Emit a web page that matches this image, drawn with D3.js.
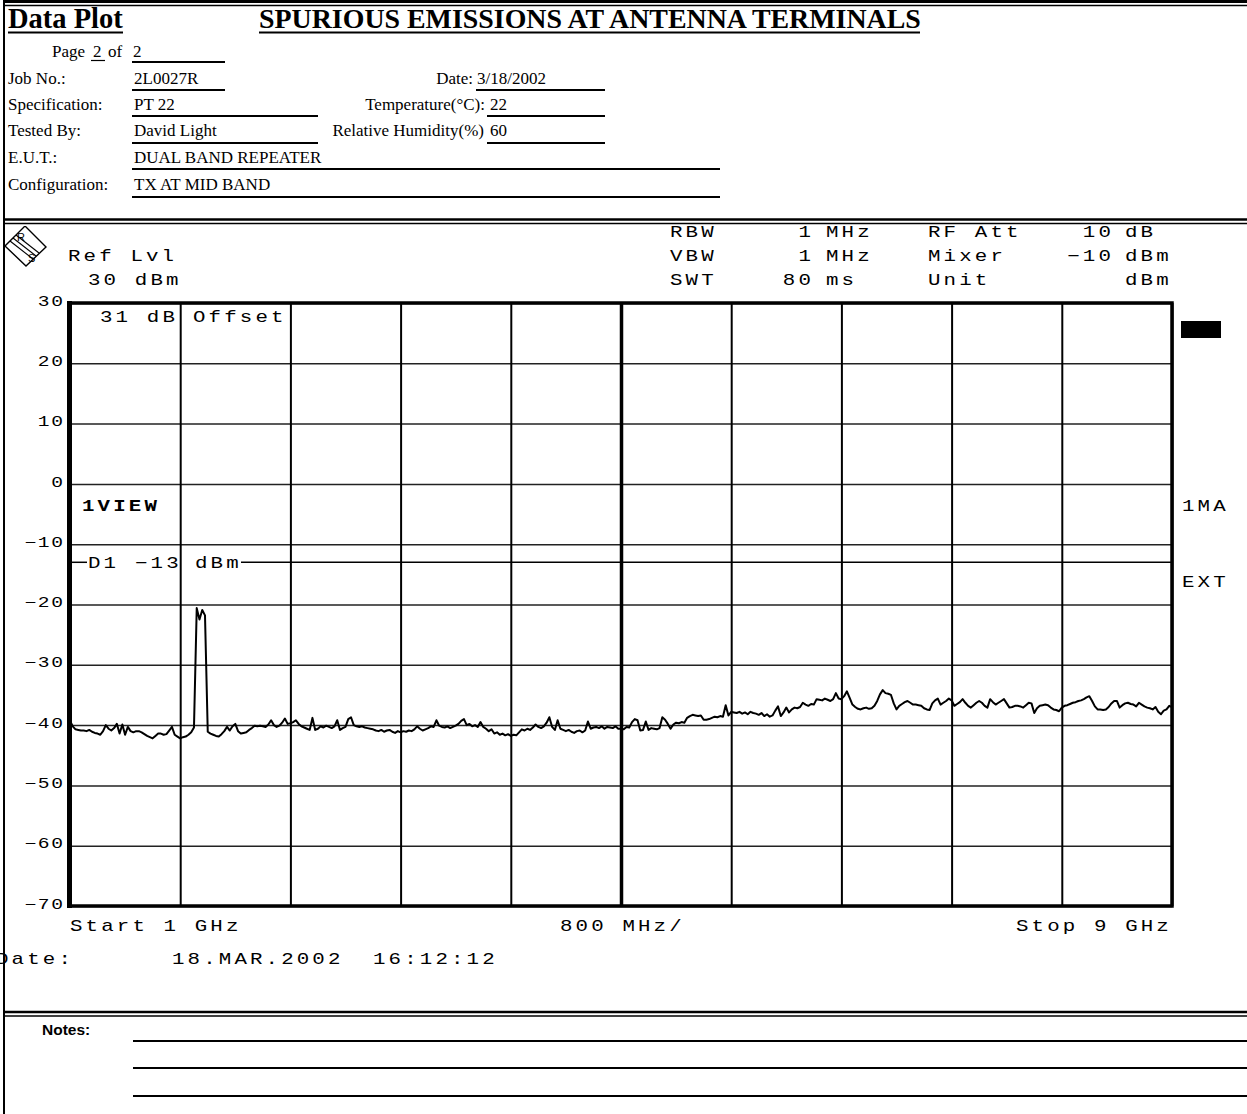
<!DOCTYPE html>
<html>
<head>
<meta charset="utf-8">
<script src="https://cdn.jsdelivr.net/npm/d3@7"></script>
<style>
  html, body { margin: 0; padding: 0; background: #fff; }
  svg { display: block; }
  .scr { font-family: "Liberation Mono", "DejaVu Sans Mono", monospace; fill: #000; }
  .frm { font-family: "Liberation Serif", "Times New Roman", serif; fill: #000; }
  .arial { font-family: "Liberation Sans", Arial, sans-serif; fill: #000; }
</style>
</head>
<body>
<svg id="page" width="1247" height="1114"></svg>
<script>
// ---------- report header ----------
const reportTitle = "SPURIOUS EMISSIONS AT ANTENNA TERMINALS";
const pageNo = "2", pageCount = "2";
const formLabels = ["Job No.:", "Specification:", "Tested By:", "E.U.T.:", "Configuration:"];
const formValues = ["2L0027R", "PT 22", "David Light", "DUAL BAND REPEATER", "TX AT MID BAND"];
const envLabels = ["Date:", "Temperature(°C):", "Relative Humidity(%)"];
const envValues = ["3/18/2002", "22", "60"];

// ---------- analyzer settings ----------
const refLevelDbm = 30;
const offsetDb = 31;
const settingNames = ["RBW", "VBW", "SWT"];
const settingNums = ["1", "1", "80"];
const settingUnits = ["MHz", "MHz", "ms"];
const settingNames2 = ["RF Att", "Mixer", "Unit"];
const settingNums2 = ["10", "−10", ""];
const settingUnits2 = ["dB", "dBm", "dBm"];
const displayLineDbm = -13;
const startGHz = 1, stopGHz = 9, spanPerDivMHz = 800;
const sweepDate = "18.MAR.2002", sweepTime = "16:12:12";

// ---------- axes ----------
const levelTicks = [30, 20, 10, 0, -10, -20, -30, -40, -50, -60, -70];
const freqGridGHz = [1, 1.8, 2.6, 3.4, 4.2, 5.0, 5.8, 6.6, 7.4, 8.2, 9];

// ---------- trace (dBm), sweep points every 20 MHz from 1 GHz to 9 GHz ----------
const traceDbm = [
  // 1.00 – 1.38 GHz
  -39.3,-40.2,-40.7,-40.8,-40.9,-40.9,-41.0,-40.8,-41.1,-41.3,-41.4,-41.6,-41.0,-40.0,-40.6,-40.9,-40.5,-39.8,-41.4,-39.9,
  // 1.40 – 1.78
  -41.6,-40.3,-41.0,-41.2,-41.0,-41.0,-41.2,-41.5,-41.8,-42.0,-42.2,-41.8,-41.4,-41.4,-41.6,-41.5,-40.9,-40.3,-41.6,-41.9,
  // 1.80 – 2.18 (carrier near 1.96 GHz)
  -42.2,-42.0,-41.9,-41.6,-41.2,-40.4,-20.6,-22.5,-20.9,-21.8,-41.1,-41.4,-41.6,-41.8,-41.9,-41.5,-41.0,-40.3,-40.9,-40.2,
  // 2.20 – 2.58
  -39.8,-41.0,-41.4,-41.3,-41.2,-40.8,-40.5,-40.1,-40.2,-40.1,-40.2,-40.3,-39.9,-39.2,-40.0,-40.3,-40.1,-39.6,-38.9,-39.8,
  // 2.60 – 2.98
  -39.7,-39.5,-39.2,-39.8,-40.2,-40.4,-40.6,-40.8,-38.8,-40.8,-40.6,-40.2,-40.4,-40.1,-40.3,-40.5,-40.2,-39.2,-40.8,-40.5,
  // 3.00 – 3.38
  -40.3,-39.0,-38.7,-40.0,-40.2,-40.3,-40.2,-40.4,-40.5,-40.6,-40.7,-40.9,-41.0,-40.8,-41.1,-40.9,-40.8,-41.1,-41.3,-41.0,
  // 3.40 – 3.78
  -41.2,-41.0,-41.1,-40.9,-41.0,-40.7,-40.2,-40.6,-40.9,-40.7,-40.5,-40.2,-40.3,-39.2,-40.1,-40.3,-40.4,-40.2,-40.5,-40.3,
  // 3.80 – 4.18
  -40.1,-39.8,-39.3,-39.0,-40.0,-39.8,-40.2,-40.0,-40.3,-39.5,-40.3,-40.6,-41.0,-40.7,-41.4,-41.2,-41.6,-41.4,-41.7,-41.5,
  // 4.20 – 4.58
  -41.8,-41.6,-41.7,-41.2,-40.7,-40.9,-40.6,-40.8,-40.4,-39.9,-40.3,-40.5,-40.2,-39.6,-38.7,-40.3,-40.8,-39.2,-40.6,-40.8,
  // 4.60 – 4.98
  -41.0,-40.8,-41.1,-41.3,-41.0,-40.9,-41.2,-40.9,-39.4,-40.6,-40.4,-40.3,-40.5,-40.2,-40.6,-40.3,-40.4,-40.5,-40.2,-40.6,
  // 5.00 – 5.38
  -40.6,-40.7,-40.3,-40.4,-39.5,-39.0,-39.2,-40.9,-40.8,-39.4,-40.8,-40.5,-40.6,-40.7,-40.5,-38.7,-39.1,-39.8,-40.6,-39.9,
  // 5.40 – 5.78
  -39.6,-39.7,-39.5,-39.6,-38.8,-38.5,-38.3,-38.4,-38.5,-38.4,-39.1,-39.1,-39.0,-38.8,-38.6,-38.7,-38.5,-38.6,-36.7,-38.4,
  // 5.80 – 6.18
  -37.8,-37.9,-38.0,-37.8,-38.1,-37.9,-38.2,-37.8,-38.0,-38.1,-38.3,-38.0,-38.5,-38.2,-38.6,-38.4,-37.6,-36.9,-38.5,-37.9,
  // 6.20 – 6.58
  -37.1,-37.9,-37.4,-37.1,-37.2,-37.0,-36.3,-36.6,-36.8,-36.5,-36.6,-35.7,-35.8,-35.9,-35.6,-35.8,-36.0,-35.7,-34.7,-35.6,
  // 6.60 – 6.98
  -35.7,-35.2,-34.4,-35.5,-36.6,-37.0,-37.3,-37.4,-37.2,-37.1,-37.3,-37.2,-36.8,-36.0,-34.9,-34.2,-34.7,-34.8,-35.0,-36.4,
  // 7.00 – 7.38
  -37.4,-36.8,-36.5,-36.2,-36.0,-36.3,-36.6,-36.6,-36.7,-36.8,-37.2,-37.4,-37.5,-36.4,-35.9,-35.6,-36.6,-36.3,-36.0,-35.6,
  // 7.40 – 7.78
  -35.9,-36.8,-36.5,-36.2,-35.7,-36.3,-36.8,-37.1,-36.7,-36.3,-36.0,-36.3,-36.8,-37.1,-35.7,-36.2,-36.6,-36.3,-36.0,-35.7,
  // 7.80 – 8.18
  -36.4,-37.1,-37.0,-36.8,-36.8,-36.9,-37.1,-36.7,-36.3,-36.4,-38.0,-37.2,-36.8,-36.7,-36.6,-36.7,-37.1,-37.4,-37.5,-37.7,
  // 8.20 – 8.58
  -37.1,-36.8,-36.7,-36.5,-36.3,-36.2,-36.0,-35.9,-35.7,-35.4,-35.2,-36.0,-36.9,-37.4,-37.4,-37.5,-37.4,-37.0,-36.4,-36.0,
  // 8.60 – 8.98
  -36.0,-37.1,-36.7,-36.4,-36.3,-36.5,-36.6,-36.9,-36.3,-36.6,-36.9,-37.1,-37.2,-37.4,-37.0,-37.8,-38.2,-37.6,-37.4,-36.8,
  // 9.00
  -37.0
];
const sweepStepGHz = (stopGHz - startGHz) / (traceDbm.length - 1);

// ---------- drawing ----------
const svg = d3.select("#page");
const W = 1247, H = 1114;

const fmtMinus = d => (d < 0 ? "\u2212" + Math.abs(d) : String(d));

// analyzer-screen text: monospace, widened, on a fixed character pitch
function screenText(parent, str, x, y, o = {}) {
  const size = o.size ?? 16, sx = o.sx ?? 1.3, pitch = o.pitch ?? 15.6;
  const ls = pitch / sx - 0.6 * size;
  return parent.append("text")
    .attr("class", "scr")
    .attr("transform", `translate(${x},${y}) scale(${sx},1)`)
    .attr("font-size", size)
    .attr("font-weight", o.bold ? "bold" : null)
    .attr("letter-spacing", ls.toFixed(2))
    .attr("dy", "0.36em")
    .style("white-space", "pre")
    .text(str);
}

function hline(parent, x1, x2, y, w) {
  parent.append("line").attr("x1", x1).attr("x2", x2).attr("y1", y).attr("y2", y)
    .attr("stroke", "#000").attr("stroke-width", w);
}

// ---- form header ----
const hdr = svg.append("g");
hdr.append("text").attr("class", "frm").attr("x", 8).attr("y", 28)
  .attr("font-size", 28.5).attr("font-weight", "bold").text("Data Plot");
hline(hdr, 8, 123, 32.5, 2.2);
hdr.append("text").attr("class", "frm").attr("x", 259).attr("y", 28)
  .attr("font-size", 27.9).attr("font-weight", "bold").text(reportTitle);
hline(hdr, 259, 920, 32.5, 2.2);

const formSize = 17;
const pageRow = hdr.append("text").attr("class", "frm").attr("x", 52).attr("y", 57).attr("font-size", formSize)
  .style("white-space", "pre");
pageRow.append("tspan").text("Page ");
pageRow.append("tspan").attr("x", 93).text(pageNo);
pageRow.append("tspan").attr("x", 108).text("of");
pageRow.append("tspan").attr("x", 133).text(pageCount);
hline(hdr, 91, 105, 60.5, 1.2);
hline(hdr, 132, 225, 62, 2);

const rowBase = [84, 110, 136, 163, 190];
const rowLine = [90, 116, 143, 169, 197];
const valueLineEnd = [225, 318, 318, 720, 720];
formLabels.forEach((lab, i) => {
  hdr.append("text").attr("class", "frm").attr("x", 8).attr("y", rowBase[i]).attr("font-size", formSize).text(lab);
  hdr.append("text").attr("class", "frm").attr("x", 134).attr("y", rowBase[i]).attr("font-size", formSize).text(formValues[i]);
  hline(hdr, 132, valueLineEnd[i], rowLine[i], 2);
});
const envLabelEnd = [473, 485, 484];
const envValueX = [477, 490, 490];
const envLineStart = [476, 487, 487];
envLabels.forEach((lab, i) => {
  hdr.append("text").attr("class", "frm").attr("x", envLabelEnd[i]).attr("y", rowBase[i]).attr("font-size", formSize)
    .attr("text-anchor", "end").text(lab);
  hdr.append("text").attr("class", "frm").attr("x", envValueX[i]).attr("y", rowBase[i]).attr("font-size", formSize).text(envValues[i]);
  hline(hdr, envLineStart[i], 605, rowLine[i], 2);
});

// ---- analyzer screen ----
svg.append("defs").append("clipPath").attr("id", "screenClip")
  .append("rect").attr("x", 0).attr("y", 226).attr("width", W).attr("height", 784);
svg.append("defs").append("clipPath").attr("id", "plotClip")
  .append("rect").attr("x", 70).attr("y", 303).attr("width", 1102).attr("height", 603);

const scr = svg.append("g").attr("clip-path", "url(#screenClip)");

const x = d3.scaleLinear().domain([startGHz, stopGHz]).range([70, 1172]);
const y = d3.scaleLinear().domain([-70, refLevelDbm]).range([906, 303]);

// R&S logo
const logo = scr.append("g");
logo.append("polygon").attr("points", "5,246 25,226 46,247 26,266")
  .attr("fill", "#fff").attr("stroke", "#000").attr("stroke-width", 1.4);
[-3, 0, 3].forEach(o => {
  logo.append("line").attr("x1", 13 + o).attr("y1", 238 - o).attr("x2", 36 + o).attr("y2", 256 - o)
    .attr("stroke", "#000").attr("stroke-width", 1.1);
});
logo.append("text").attr("class", "arial").attr("x", 17).attr("y", 241).attr("font-size", 11).text("R");
logo.append("text").attr("class", "arial").attr("x", 28).attr("y", 262).attr("font-size", 11).text("S");

// settings block
screenText(scr, "Ref Lvl", 68, 255);
screenText(scr, `${refLevelDbm} dBm`, 88, 279);
const rowY = [231, 255, 279];
settingNames.forEach((n, i) => {
  screenText(scr, n, 670, rowY[i]);
  screenText(scr, settingNums[i], 812 - settingNums[i].length * 15.6 + 2, rowY[i]);
  screenText(scr, settingUnits[i], 826, rowY[i]);
  screenText(scr, settingNames2[i], 928, rowY[i]);
  if (settingNums2[i]) screenText(scr, settingNums2[i], 1112 - settingNums2[i].length * 15.6 + 2, rowY[i]);
  screenText(scr, settingUnits2[i], 1125, rowY[i]);
});

// grid: horizontal level lines with labels
const yAxis = d3.axisLeft(y).tickValues(levelTicks).tickSize(-(1172 - 70)).tickPadding(0).tickFormat(fmtMinus);
const gy = scr.append("g").attr("transform", "translate(70,0)").call(yAxis);
gy.select(".domain").remove();
gy.selectAll(".tick line").attr("stroke", "#222").attr("stroke-width", 1.5);
const labSize = 14, labSx = 1.4, labPitch = 13.4;
const labLs = labPitch / labSx - 0.6 * labSize;
gy.selectAll(".tick text")
  .attr("class", "scr")
  .attr("x", null).attr("dy", null)
  .attr("font-size", labSize)
  .attr("fill", "#000")
  .attr("letter-spacing", labLs.toFixed(2))
  .attr("text-anchor", "end")
  .attr("dominant-baseline", "central")
  .attr("transform", `translate(${-7 + labLs * labSx},-1.5) scale(${labSx},1)`);

// grid: vertical frequency lines
const xAxis = d3.axisBottom(x).tickValues(freqGridGHz).tickSize(-(906 - 303)).tickFormat("");
const gx = scr.append("g").attr("transform", "translate(0,906)").call(xAxis);
gx.select(".domain").remove();
gx.selectAll(".tick line").attr("stroke", "#000")
  .attr("stroke-width", d => (Math.abs(d - (startGHz + stopGHz) / 2) < 1e-6 ? 3.5 : 2));

// frame
scr.append("rect").attr("x", 70).attr("y", 303).attr("width", 1102).attr("height", 603)
  .attr("fill", "none").attr("stroke", "#000").attr("stroke-width", 3.5);
scr.append("line").attr("x1", 69.5).attr("x2", 69.5).attr("y1", 301).attr("y2", 908)
  .attr("stroke", "#000").attr("stroke-width", 5);

// offset note
screenText(scr, `${offsetDb} dB`, 100, 316);
screenText(scr, "Offset", 193, 316);

// display line D1
const yD1 = y(displayLineDbm);
hline(scr, 70, 87, yD1, 1.5);
screenText(scr, "D1", 88, yD1);
screenText(scr, fmtMinus(displayLineDbm), 135, yD1);
screenText(scr, "dBm", 195, yD1);
hline(scr, 241, 1172, yD1, 1.5);

// trace labels
screenText(scr, "1VIEW", 82, 505, { bold: true });
screenText(scr, "1MA", 1182, 505);
screenText(scr, "EXT", 1182, 581);
scr.append("rect").attr("x", 1181).attr("y", 321).attr("width", 40).attr("height", 17).attr("fill", "#000");

// trace
const line = d3.line()
  .x((d, i) => x(startGHz + i * sweepStepGHz))
  .y(d => y(d));
scr.append("path").datum(traceDbm)
  .attr("clip-path", "url(#plotClip)")
  .attr("d", line)
  .attr("fill", "none").attr("stroke", "#000").attr("stroke-width", 2).attr("stroke-linejoin", "round");

// frequency annotation
screenText(scr, `Start ${startGHz} GHz`, 70, 925);
screenText(scr, `${spanPerDivMHz} MHz/`, 560, 925);
screenText(scr, `Stop ${stopGHz} GHz`, 1016, 925);
screenText(scr, "Date:", -4, 958);
screenText(scr, sweepDate, 172, 958);
screenText(scr, sweepTime, 373, 958);

// ---- page frame lines ----
const frame = svg.append("g");
hline(frame, 4, W, 1.5, 3);
hline(frame, 4, W, 5.5, 1.5);
hline(frame, 4, W, 219.5, 2.5);
hline(frame, 4, W, 223.5, 1.5);
hline(frame, 4, W, 1012, 2.5);
hline(frame, 4, W, 1016, 1.5);
frame.append("line").attr("x1", 4).attr("x2", 4).attr("y1", 0).attr("y2", H)
  .attr("stroke", "#000").attr("stroke-width", 2);

// ---- notes ----
svg.append("text").attr("class", "arial").attr("x", 42).attr("y", 1035)
  .attr("font-size", 15.5).attr("font-weight", "bold").text("Notes:");
[1041, 1068, 1096].forEach(yy => hline(svg, 133, W, yy, 2));
</script>
</body>
</html>
